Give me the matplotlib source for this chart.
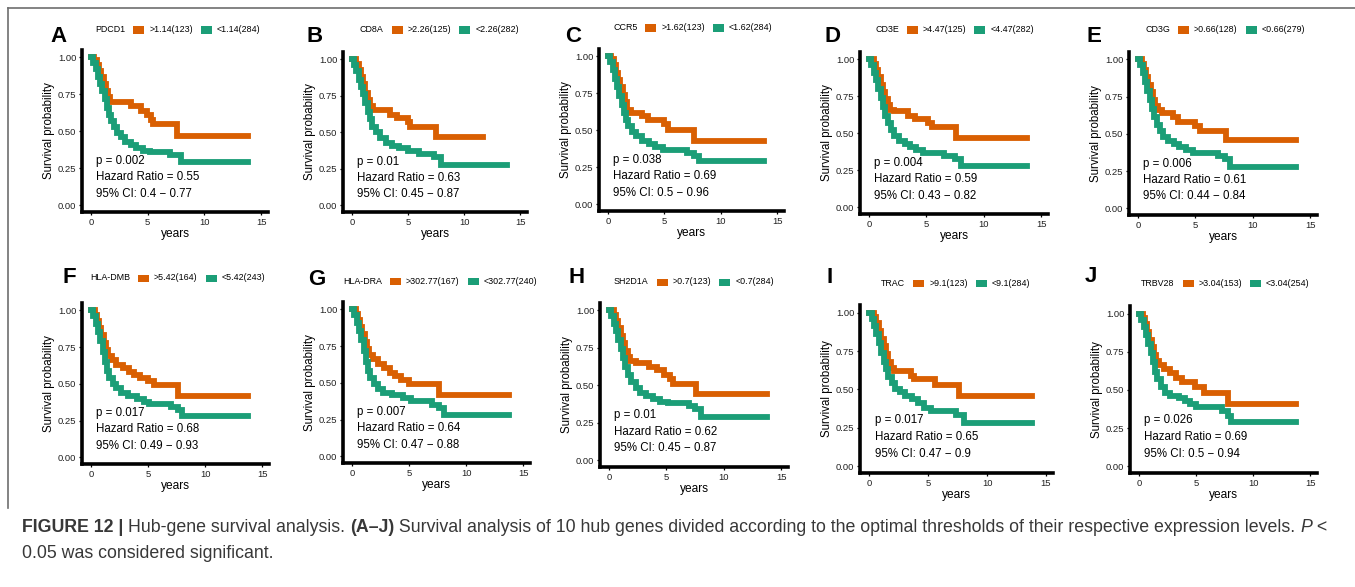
import matplotlib
matplotlib.use("Agg")
import matplotlib.pyplot as plt
from matplotlib.patches import Rectangle
from matplotlib.lines import Line2D

plt.rcParams['font.family'] = ['Liberation Sans', 'DejaVu Sans']

W, H = 1355, 587
ORANGE = '#D95F02'
GREEN = '#1B9E77'

# ---------------- data ----------------
letters = ['A', 'B', 'C', 'D', 'E', 'F', 'G', 'H', 'I', 'J']
genes = ['PDCD1', 'CD8A', 'CCR5', 'CD3E', 'CD3G', 'HLA-DMB', 'HLA-DRA', 'SH2D1A', 'TRAC', 'TRBV28']
high_labels = ['>1.14(123)', '>2.26(125)', '>1.62(123)', '>4.47(125)', '>0.66(128)',
               '>5.42(164)', '>302.77(167)', '>0.7(123)', '>9.1(123)', '>3.04(153)']
low_labels = ['<1.14(284)', '<2.26(282)', '<1.62(284)', '<4.47(282)', '<0.66(279)',
              '<5.42(243)', '<302.77(240)', '<0.7(284)', '<9.1(284)', '<3.04(254)']
p_values = ['0.002', '0.01', '0.038', '0.004', '0.006', '0.017', '0.007', '0.01', '0.017', '0.026']
hazard_ratios = ['0.55', '0.63', '0.69', '0.59', '0.61', '0.68', '0.64', '0.62', '0.65', '0.69']
ci_texts = ['0.4 - 0.77', '0.45 - 0.87', '0.5 - 0.96', '0.43 - 0.82', '0.44 - 0.84',
            '0.49 - 0.93', '0.47 - 0.88', '0.45 - 0.87', '0.47 - 0.9', '0.5 - 0.94']

# high-expression (orange) curves: times, survival
high_t = [
    [0, 0.3, 0.5, 0.7, 0.9, 1.1, 1.3, 1.5, 1.7, 3.5, 4.4, 4.9, 5.3, 5.5, 7.6, 13.8],
    [0, 0.4, 0.6, 0.8, 1.0, 1.2, 1.4, 1.6, 1.9, 3.4, 4.0, 5.0, 5.2, 7.5, 11.7],
    [0, 0.3, 0.5, 0.7, 0.9, 1.1, 1.3, 1.5, 1.7, 2.0, 3.0, 3.5, 5.0, 5.3, 7.6, 13.8],
    [0, 0.4, 0.6, 0.8, 1.0, 1.2, 1.4, 1.6, 1.8, 2.2, 3.4, 4.0, 5.1, 5.5, 7.6, 13.8],
    [0, 0.3, 0.5, 0.7, 0.9, 1.1, 1.3, 1.5, 1.7, 2.1, 3.0, 3.5, 5.0, 5.4, 7.7, 13.8],
    [0, 0.3, 0.5, 0.7, 0.9, 1.1, 1.3, 1.5, 1.8, 2.2, 2.8, 3.3, 3.8, 4.3, 5.0, 5.5, 7.6, 13.8],
    [0, 0.3, 0.5, 0.7, 0.9, 1.1, 1.3, 1.5, 1.8, 2.3, 2.8, 3.3, 3.8, 4.3, 5.0, 7.6, 13.8],
    [0, 0.4, 0.6, 0.8, 1.0, 1.2, 1.4, 1.6, 1.8, 2.3, 3.5, 4.2, 4.8, 5.3, 5.6, 7.6, 13.8],
    [0, 0.4, 0.6, 0.8, 1.0, 1.2, 1.4, 1.6, 1.8, 2.1, 3.5, 3.8, 5.6, 7.6, 13.8],
    [0, 0.3, 0.5, 0.7, 0.9, 1.1, 1.3, 1.5, 1.7, 2.2, 2.7, 3.2, 3.8, 4.9, 5.7, 7.8, 13.8],
]
high_s = [
    [1, 0.98, 0.95, 0.91, 0.87, 0.82, 0.77, 0.73, 0.70, 0.67, 0.64, 0.61, 0.58, 0.55, 0.47, 0.47],
    [1, 0.97, 0.93, 0.88, 0.83, 0.77, 0.72, 0.68, 0.65, 0.62, 0.60, 0.57, 0.54, 0.47, 0.47],
    [1, 0.98, 0.94, 0.89, 0.84, 0.79, 0.74, 0.69, 0.64, 0.62, 0.60, 0.57, 0.54, 0.50, 0.43, 0.43],
    [1, 0.97, 0.93, 0.88, 0.83, 0.78, 0.73, 0.69, 0.66, 0.65, 0.62, 0.60, 0.57, 0.54, 0.47, 0.47],
    [1, 0.97, 0.93, 0.88, 0.83, 0.78, 0.73, 0.69, 0.66, 0.64, 0.61, 0.58, 0.55, 0.52, 0.46, 0.46],
    [1, 0.97, 0.93, 0.88, 0.83, 0.78, 0.73, 0.69, 0.66, 0.63, 0.61, 0.58, 0.56, 0.54, 0.52, 0.49, 0.42, 0.42],
    [1, 0.97, 0.93, 0.88, 0.83, 0.78, 0.73, 0.69, 0.66, 0.63, 0.60, 0.57, 0.55, 0.52, 0.49, 0.42, 0.42],
    [1, 0.97, 0.93, 0.88, 0.83, 0.78, 0.73, 0.69, 0.66, 0.65, 0.62, 0.60, 0.57, 0.54, 0.51, 0.44, 0.44],
    [1, 0.97, 0.93, 0.88, 0.83, 0.78, 0.73, 0.68, 0.64, 0.62, 0.59, 0.57, 0.53, 0.46, 0.46],
    [1, 0.97, 0.93, 0.88, 0.83, 0.78, 0.73, 0.69, 0.66, 0.64, 0.61, 0.58, 0.55, 0.52, 0.48, 0.41, 0.41],
]

# low-expression (green) curves: times, survival
low_t = [
    [0, 0.2, 0.4, 0.6, 0.8, 1.0, 1.2, 1.4, 1.6, 1.8, 2.0, 2.3, 2.6, 3.0, 3.5, 4.0, 4.6, 5.2, 7.0, 7.9, 13.8],
    [0, 0.2, 0.4, 0.6, 0.8, 1.0, 1.2, 1.4, 1.6, 1.8, 2.1, 2.5, 3.0, 3.6, 4.2, 5.0, 6.0, 7.3, 7.9, 13.8],
    [0, 0.2, 0.4, 0.6, 0.8, 1.0, 1.2, 1.4, 1.6, 1.8, 2.1, 2.5, 3.0, 3.6, 4.2, 4.9, 7.0, 7.6, 8.1, 13.8],
    [0, 0.2, 0.4, 0.6, 0.8, 1.0, 1.2, 1.4, 1.6, 1.9, 2.2, 2.6, 3.1, 3.6, 4.1, 4.7, 6.5, 7.5, 8.0, 13.8],
    [0, 0.2, 0.4, 0.6, 0.8, 1.0, 1.2, 1.4, 1.6, 1.9, 2.2, 2.6, 3.1, 3.6, 4.2, 4.8, 7.0, 7.6, 8.0, 13.8],
    [0, 0.2, 0.4, 0.6, 0.8, 1.0, 1.2, 1.4, 1.6, 1.9, 2.2, 2.6, 3.2, 4.0, 4.6, 5.1, 7.0, 7.6, 8.0, 13.8],
    [0, 0.2, 0.4, 0.6, 0.8, 1.0, 1.2, 1.4, 1.6, 1.9, 2.3, 2.7, 3.5, 4.5, 5.2, 7.0, 7.6, 8.1, 13.8],
    [0, 0.2, 0.4, 0.6, 0.8, 1.0, 1.2, 1.4, 1.6, 1.9, 2.3, 2.7, 3.2, 3.8, 4.4, 5.1, 7.0, 7.5, 8.0, 13.8],
    [0, 0.2, 0.4, 0.6, 0.8, 1.0, 1.2, 1.4, 1.6, 1.9, 2.2, 2.6, 3.0, 3.6, 4.1, 4.6, 5.2, 7.4, 8.0, 13.8],
    [0, 0.2, 0.4, 0.6, 0.8, 1.0, 1.2, 1.4, 1.6, 1.9, 2.3, 2.7, 3.5, 4.0, 4.5, 5.0, 7.3, 7.8, 8.1, 13.8],
]
low_s = [
    [1, 0.96, 0.92, 0.87, 0.82, 0.77, 0.72, 0.66, 0.61, 0.57, 0.53, 0.49, 0.46, 0.43, 0.41, 0.39, 0.37, 0.36, 0.34, 0.29, 0.29],
    [1, 0.96, 0.92, 0.86, 0.81, 0.76, 0.70, 0.64, 0.59, 0.54, 0.50, 0.46, 0.43, 0.41, 0.39, 0.37, 0.35, 0.33, 0.28, 0.28],
    [1, 0.96, 0.91, 0.85, 0.79, 0.73, 0.67, 0.62, 0.57, 0.53, 0.49, 0.46, 0.43, 0.41, 0.39, 0.37, 0.35, 0.33, 0.29, 0.29],
    [1, 0.96, 0.91, 0.86, 0.80, 0.74, 0.68, 0.62, 0.57, 0.52, 0.48, 0.45, 0.43, 0.41, 0.39, 0.37, 0.35, 0.33, 0.28, 0.28],
    [1, 0.96, 0.91, 0.85, 0.79, 0.73, 0.67, 0.61, 0.56, 0.52, 0.48, 0.45, 0.43, 0.41, 0.39, 0.37, 0.35, 0.33, 0.28, 0.28],
    [1, 0.96, 0.91, 0.85, 0.79, 0.72, 0.65, 0.59, 0.54, 0.50, 0.47, 0.44, 0.42, 0.40, 0.38, 0.36, 0.34, 0.32, 0.28, 0.28],
    [1, 0.96, 0.91, 0.85, 0.79, 0.72, 0.64, 0.58, 0.53, 0.49, 0.46, 0.43, 0.42, 0.40, 0.38, 0.35, 0.33, 0.28, 0.28],
    [1, 0.96, 0.91, 0.86, 0.80, 0.74, 0.68, 0.62, 0.57, 0.52, 0.48, 0.45, 0.43, 0.41, 0.39, 0.38, 0.36, 0.34, 0.29, 0.29],
    [1, 0.96, 0.91, 0.86, 0.80, 0.74, 0.68, 0.63, 0.58, 0.54, 0.50, 0.48, 0.46, 0.44, 0.41, 0.38, 0.36, 0.33, 0.28, 0.28],
    [1, 0.96, 0.91, 0.86, 0.80, 0.74, 0.68, 0.62, 0.57, 0.52, 0.48, 0.46, 0.45, 0.43, 0.41, 0.39, 0.36, 0.33, 0.29, 0.29],
]

x_ticks = [0, 5, 10, 15]
y_ticks = [0.00, 0.25, 0.50, 0.75, 1.00]
y_tick_labels = ['0.00', '0.25', '0.50', '0.75', '1.00']

caption_parts = [
    ("FIGURE 12 | ", 'bold', 'normal'),
    ("Hub-gene survival analysis. ", 'normal', 'normal'),
    ("(A\u2013J)", 'bold', 'normal'),
    (" Survival analysis of 10 hub genes divided according to the optimal thresholds of their respective expression levels. ", 'normal', 'normal'),
    ("P", 'normal', 'italic'),
    (" <", 'normal', 'normal'),
]
caption_line2 = "0.05 was considered significant."

# ---------------- layout (pixels: left, top, right, bottom) ----------------
panel_rects = [
    (82, 50, 268, 212), (343, 52, 527, 212), (599, 49, 784, 211),
    (860, 52, 1048, 214), (1129, 52, 1317, 215),
    (82, 303, 269, 464), (343, 302, 530, 463), (600, 303, 788, 467),
    (860, 305, 1053, 473), (1130, 306, 1317, 473),
]
letter_pos = [(50, 37), (307, 37), (565, 37), (825, 37), (1087, 37),
              (62, 278), (308, 280), (568, 278), (826, 278), (1085, 277)]
legend_pos = [(95, 30), (360, 30), (613, 28), (875, 30), (1145, 30),
              (90, 278), (343, 281), (614, 282), (881, 283), (1141, 283)]

fig = plt.figure(figsize=(W / 100, H / 100), dpi=100)
renderer = fig.canvas.get_renderer()


def fx(x):
    return x / W


def fy(y):
    return 1 - y / H


# frame
fig.add_artist(Line2D([fx(8), fx(8)], [fy(8), fy(508)], color='#6e6e6e', lw=1.2))
fig.add_artist(Line2D([fx(8), fx(1355)], [fy(8), fy(8)], color='#6e6e6e', lw=1.2))

for i in range(10):
    l, t, r, b = panel_rects[i]
    ax = fig.add_axes([fx(l), fy(b), (r - l) / W, (b - t) / H])
    ax.step(high_t[i], high_s[i], where='post', color=ORANGE, lw=4.2, solid_joinstyle='miter')
    ax.step(low_t[i], low_s[i], where='post', color=GREEN, lw=4.2, solid_joinstyle='miter')
    ax.set_xlim(-0.8, 15.6)
    ax.set_ylim(-0.045, 1.05)
    for s in ['top', 'right']:
        ax.spines[s].set_visible(False)
    for s in ['left', 'bottom']:
        ax.spines[s].set_linewidth(2.6)
        ax.spines[s].set_color('black')
    ax.set_xticks(x_ticks)
    ax.set_yticks(y_ticks)
    ax.set_yticklabels(y_tick_labels)
    ax.tick_params(axis='both', length=2.5, width=0.9, labelsize=6.8, pad=1.5, colors='black',
                   labelcolor='#222222')
    ax.set_xlabel('years', fontsize=8.6, labelpad=1)
    ax.set_ylabel('Survival probability', fontsize=8.3, labelpad=2)
    ax.patch.set_alpha(0)
    ax.text(0.45, 0.30, 'p = ' + p_values[i], fontsize=8.3, va='center', ha='left')
    ax.text(0.45, 0.19, 'Hazard Ratio = ' + hazard_ratios[i], fontsize=8.3, va='center', ha='left')
    ax.text(0.45, 0.08, '95% CI: ' + ci_texts[i].replace('-', '\u2212'), fontsize=8.3,
            va='center', ha='left')

    # panel letter
    lx, ly = letter_pos[i]
    fig.text(fx(lx), fy(ly), letters[i], fontsize=16, fontweight='bold', ha='left', va='center')

    # legend
    gx, gy = legend_pos[i]
    x = gx
    tt = fig.text(fx(x), fy(gy), genes[i], fontsize=6.4, ha='left', va='center')
    x = tt.get_window_extent(renderer).x1 + 8
    for col, lab in ((ORANGE, high_labels[i]), (GREEN, low_labels[i])):
        fig.add_artist(Rectangle((fx(x), fy(gy + 3.5)), 11 / W, 7 / H, transform=fig.transFigure,
                                 facecolor=col, edgecolor='none'))
        x += 11 + 5
        tt = fig.text(fx(x), fy(gy), lab, fontsize=6.4, ha='left', va='center')
        x = tt.get_window_extent(renderer).x1 + 8

# caption line 1 fitted to width
target_w = 1335 - 22


def draw_caption(fs):
    arts = []
    x = 22
    for txt, wt, st in caption_parts:
        a = fig.text(fx(x), fy(527), txt, fontsize=fs, fontweight=wt, fontstyle=st,
                     ha='left', va='center', color='#383838')
        arts.append(a)
        x = a.get_window_extent(renderer).x1
    return arts, x - 22


fs = 11.5
arts, wdt = draw_caption(fs)
for a in arts:
    a.remove()
fs = fs * target_w / wdt
arts, wdt = draw_caption(fs)
fig.text(fx(22), fy(553), caption_line2, fontsize=fs, ha='left', va='center', color='#383838')

fig.savefig('out.png', dpi=100)
